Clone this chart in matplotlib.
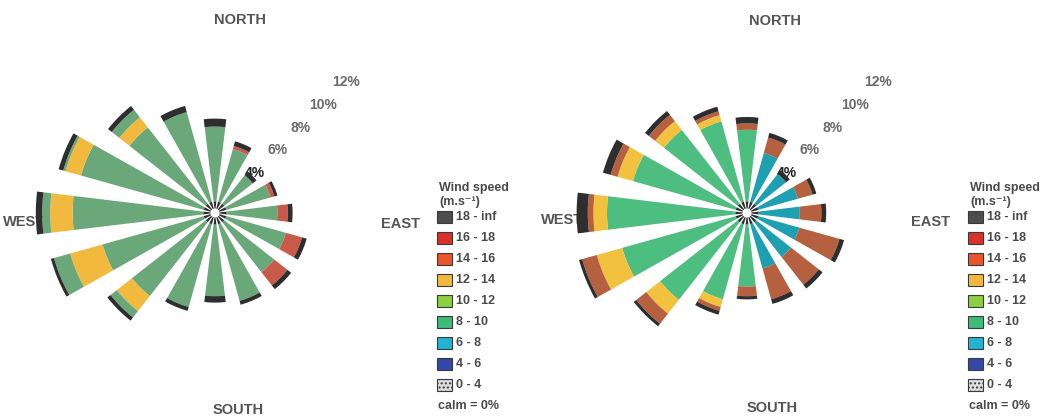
import numpy as np
import matplotlib.pyplot as plt
from matplotlib.patches import Rectangle

# ---------------------------------------------------------------- data
directions = ['N', 'NNE', 'NE', 'ENE', 'E', 'ESE', 'SE', 'SSE',
              'S', 'SSW', 'SW', 'WSW', 'W', 'WNW', 'NW', 'NNW']

speed_classes = ['18 - inf', '16 - 18', '14 - 16', '12 - 14', '10 - 12',
                 '8 - 10', '6 - 8', '4 - 6', '0 - 4']
class_colors = ['#4d4d4d', '#d7312a', '#e9542c', '#f2b83e', '#8ccf3f',
                '#3dbb79', '#23b3d3', '#3446a8', '#dedede']

radial_ticks = [4, 6, 8, 10, 12]

# frequency (%) of each layer, stacked outward from the calm hole
left_inner  = [0.45] * 16
left_core   = [4.67, 3.42, 2.27, 2.87, 3.17, 3.87, 3.97, 4.97,
               4.47, 5.37, 5.87, 6.57, 8.17, 7.97, 6.07, 5.82]
left_yellow = [0, 0, 0, 0, 0, 0, 0, 0, 0, 0, 1.2, 2.1, 1.4, 1.0, 0.8, 0]
left_outer  = [0, 0, 0, 0, 0, 0, 0, 0, 0, 0, 0.5, 1.05, 0.5, 0.15, 0.6, 0]
left_red    = [0, 0.2, 0, 0.25, 0.65, 1.05, 1.05, 0, 0, 0, 0, 0, 0, 0, 0, 0]
left_cap    = [0.5, 0.3, 0.3, 0.2, 0.3, 0.3, 0.3, 0.25,
               0.4, 0.25, 0.25, 0.2, 0.4, 0.3, 0.3, 0.4]

right_inner  = [0.45] * 16
right_green  = [4.47, 0, 0, 0, 0, 0, 0, 0,
                3.87, 4.87, 6.17, 7.37, 8.02, 6.67, 5.87, 5.22]
right_teal   = [0, 3.17, 2.37, 2.57, 2.57, 2.67, 2.77, 2.87,
                0, 0, 0, 0, 0, 0, 0, 0]
right_yellow = [0, 0, 0, 0, 0, 0, 0, 0, 0, 0.5, 1.1, 1.65, 0.85, 1.0, 0.7, 0.4]
right_brown  = [0.4, 1.0, 0, 0.95, 1.35, 2.6, 2.2, 2.0,
                0.6, 0.25, 0.8, 0.95, 0.35, 0.45, 0.5, 0.25]
right_cap    = [0.4, 0.3, 0.3, 0.25, 0.3, 0.3, 0.3, 0.3,
                0.2, 0.25, 0.2, 0.2, 0.7, 0.5, 0.3, 0.3]

# ---------------------------------------------------------------- layout
W_PX, H_PX = 1045, 417
PX_PER_PCT = 16.0
RMAX = 12.5
HOLE = 0.28
BAR_WIDTH = 0.24
TEXT_GREY = '#555555'
LEGEND_GREY = '#4a4a4a'
FONT = ['Liberation Sans', 'DejaVu Sans']

fig = plt.figure(figsize=(W_PX / 100, H_PX / 100), dpi=100)
fig.patch.set_facecolor('white')

theta = np.deg2rad(np.arange(len(directions)) * 22.5)


def rose(cx, cy, layers, compass_pos):
    R = PX_PER_PCT * RMAX
    ax = fig.add_axes([(cx - R) / W_PX, (H_PX - cy - R) / H_PX,
                       2 * R / W_PX, 2 * R / H_PX], projection='polar')
    ax.set_theta_zero_location('N')
    ax.set_theta_direction(-1)
    ax.set_ylim(0, RMAX)
    ax.set_axis_off()
    bottom = np.full(len(directions), HOLE)
    for values, color in layers:
        values = np.asarray(values, dtype=float)
        ax.bar(theta, values, width=BAR_WIDTH, bottom=bottom,
               color=color, linewidth=0, zorder=2)
        bottom = bottom + values
    for v in radial_ticks:
        ax.text(np.deg2rad(45), v - 0.45, f'{v}%', ha='center', va='center',
                fontsize=10, fontweight='bold', family=FONT,
                color='#222222' if v == 4 else '#6a6a6a', zorder=1)
    # compass names sit underneath the bars
    for name, (x, y) in compass_pos.items():
        ax.text(x / W_PX, 1 - y / H_PX, name, transform=fig.transFigure,
                ha='center', va='center', fontsize=10.5, fontweight='bold',
                family=FONT, color=TEXT_GREY, zorder=1, clip_on=False)
    return ax


def legend(x0, y_top):
    fig.text((x0 + 2) / W_PX, 1 - y_top / H_PX, 'Wind speed', ha='left',
             va='center', fontsize=9, fontweight='bold', family=FONT,
             color=LEGEND_GREY)
    fig.text((x0 + 2) / W_PX, 1 - (y_top + 14) / H_PX, '(m.s\u207b\u00b9)',
             ha='left', va='center', fontsize=9, fontweight='bold',
             family=FONT, color=LEGEND_GREY)
    step = 21
    for i, (lab, col) in enumerate(zip(speed_classes, class_colors)):
        yc = y_top + 29 + i * step
        fig.patches.append(Rectangle(
            (x0 / W_PX, 1 - (yc + 6) / H_PX), 15 / W_PX, 12 / H_PX,
            transform=fig.transFigure, facecolor=col,
            edgecolor='#3a3a3a', linewidth=0.8,
            hatch='....' if lab == '0 - 4' else None))
        fig.text((x0 + 19) / W_PX, 1 - yc / H_PX, lab, ha='left',
                 va='center', fontsize=9, fontweight='bold', family=FONT,
                 color=LEGEND_GREY)
    yc = y_top + 29 + len(speed_classes) * step
    fig.text((x0 + 1) / W_PX, 1 - yc / H_PX, 'calm = 0%', ha='left',
             va='center', fontsize=9, fontweight='bold', family=FONT,
             color=LEGEND_GREY)


# left rose
rose(215, 213, [
    (left_inner, '#2c2c2c'),
    (left_core, '#6aa87a'),
    (left_yellow, '#f1b93e'),
    (left_outer, '#6aa87a'),
    (left_red, '#c95a4a'),
    (left_cap, '#2e2e2e'),
], {'NORTH': (240, 20), 'SOUTH': (238, 410),
    'EAST': (400, 224), 'WEST': (24, 222)})
legend(437, 188)

# right rose
rose(747, 213, [
    (right_inner, '#2c2c2c'),
    (right_green, '#4dbd80'),
    (right_teal, '#1f9fb2'),
    (right_yellow, '#f2c23e'),
    (right_brown, '#b5603f'),
    (right_cap, '#2e2e2e'),
], {'NORTH': (775, 21), 'SOUTH': (772, 408),
    'EAST': (930, 222), 'WEST': (562, 220)})
legend(968, 188)

fig.savefig('out.png', dpi=100, facecolor='white')
